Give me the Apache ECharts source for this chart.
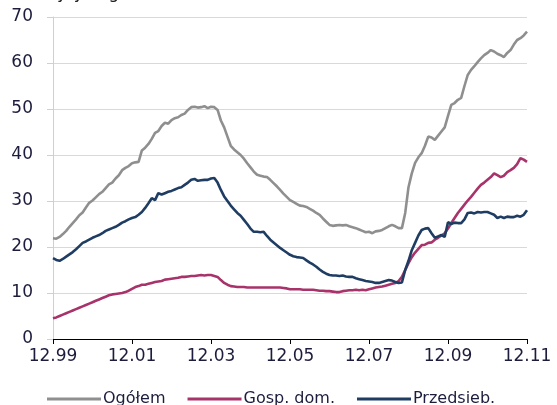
<!DOCTYPE html>
<html>
<head>
<meta charset="utf-8">
<script src="https://cdn.jsdelivr.net/npm/echarts@6/dist/echarts.min.js"></script>
<style>html,body{margin:0;padding:0;background:#fff}#c{width:557px;height:405px}</style>
</head>
<body>
<div id="c"></div>
<script>
// Monthly categories from 12.1999 to 12.2011
const categories = [];
for (let y = 1999, m = 12; y < 2011 || (y === 2011 && m <= 12); ) {
  categories.push(String(m).padStart(2, '0') + '.' + String(y % 100).padStart(2, '0'));
  m++; if (m > 12) { m = 1; y++; }
}
const seriesNames = ['Ogółem', 'Gosp. dom.', 'Przedsieb.'];
const ogolem = [
  21.9, 21.8, 22.2, 22.8, 23.5, 24.4, 25.2, 26.0, 26.9, 27.5,
  28.6, 29.6, 30.1, 30.8, 31.5, 32.0, 32.8, 33.6, 34.0, 34.9,
  35.6, 36.7, 37.2, 37.6, 38.2, 38.4, 38.5, 41.0, 41.6, 42.4,
  43.5, 44.8, 45.2, 46.3, 47.0, 46.8, 47.6, 48.0, 48.2, 48.7,
  49.0, 49.8, 50.4, 50.5, 50.3, 50.4, 50.6, 50.2, 50.5, 50.4,
  49.8, 47.5, 46.0, 44.0, 42.0, 41.2, 40.6, 40.0, 39.2, 38.2,
  37.3, 36.4, 35.7, 35.5, 35.3, 35.2, 34.6, 33.9, 33.2, 32.4,
  31.6, 30.9, 30.2, 29.8, 29.4, 29.0, 28.9, 28.7, 28.3, 27.9,
  27.4, 27.0, 26.2, 25.5, 24.8, 24.6, 24.7, 24.8, 24.7, 24.8,
  24.5, 24.3, 24.1, 23.8, 23.5, 23.2, 23.3, 23.0, 23.4, 23.5,
  23.7, 24.1, 24.5, 24.8, 24.5, 24.1, 24.1, 27.4, 33.0, 36.0,
  38.3, 39.5, 40.4, 42.0, 44.0, 43.8, 43.3, 44.2, 45.1, 46.0,
  48.5, 50.9, 51.3, 52.0, 52.4, 55.0, 57.4, 58.5, 59.3, 60.2,
  61.0, 61.7, 62.2, 62.8, 62.5, 62.0, 61.7, 61.3, 62.2, 62.8,
  64.0, 65.0, 65.4, 66.0, 66.8
];
const gospDom = [
  4.5, 4.7, 5.0, 5.3, 5.6, 5.9, 6.2, 6.5, 6.8, 7.1,
  7.4, 7.7, 8.0, 8.3, 8.6, 8.9, 9.2, 9.5, 9.7, 9.8,
  9.9, 10.0, 10.2, 10.5, 10.9, 11.3, 11.5, 11.8, 11.8, 12.0,
  12.2, 12.4, 12.5, 12.6, 12.9, 13.0, 13.1, 13.2, 13.3, 13.5,
  13.5, 13.6, 13.7, 13.7, 13.8, 13.9, 13.8, 13.9, 13.9, 13.7,
  13.5, 12.8, 12.2, 11.8, 11.5, 11.4, 11.3, 11.3, 11.3, 11.2,
  11.2, 11.2, 11.2, 11.2, 11.2, 11.2, 11.2, 11.2, 11.2, 11.2,
  11.1, 11.0, 10.8, 10.8, 10.8, 10.8, 10.7, 10.7, 10.7, 10.7,
  10.6, 10.5, 10.5, 10.4, 10.4, 10.3, 10.2, 10.2, 10.4, 10.5,
  10.6, 10.6, 10.7, 10.6, 10.7, 10.6, 10.8, 11.0, 11.2, 11.3,
  11.4, 11.6, 11.8, 12.0, 12.2, 12.6, 13.5, 15.0, 16.5, 17.8,
  18.8, 19.6, 20.4, 20.5, 20.9, 21.0, 21.6, 22.0, 22.5, 23.0,
  24.0, 25.2, 26.3, 27.4, 28.3, 29.2, 30.1, 30.9, 31.8, 32.7,
  33.5, 34.0, 34.6, 35.2, 36.0, 35.6, 35.2, 35.5, 36.3, 36.7,
  37.2, 38.0, 39.3, 39.0, 38.5
];
const przedsieb = [
  17.6, 17.2, 17.0, 17.4, 17.9, 18.4, 18.9, 19.5, 20.2, 20.9,
  21.2, 21.6, 22.0, 22.3, 22.6, 23.0, 23.5, 23.8, 24.1, 24.4,
  24.8, 25.3, 25.6, 26.0, 26.3, 26.5, 27.0, 27.6, 28.5, 29.5,
  30.6, 30.2, 31.7, 31.4, 31.7, 32.0, 32.2, 32.5, 32.8, 33.0,
  33.5, 34.0, 34.6, 34.8, 34.4, 34.5, 34.6, 34.6, 34.9, 35.0,
  34.0, 32.4, 31.0, 30.0, 29.0, 28.2, 27.4, 26.8, 25.9, 25.0,
  24.0, 23.3, 23.3, 23.2, 23.3, 22.4, 21.6, 21.0, 20.4, 19.8,
  19.3, 18.8, 18.3, 18.0, 17.8, 17.7, 17.6, 17.1, 16.6, 16.2,
  15.7, 15.1, 14.6, 14.2, 13.9, 13.8, 13.8, 13.7, 13.8, 13.6,
  13.5, 13.5, 13.2, 13.0, 12.8, 12.6, 12.5, 12.4, 12.2, 12.2,
  12.4, 12.6, 12.8, 12.7, 12.4, 12.2, 12.3, 15.0, 17.0, 19.3,
  20.9, 22.5, 23.7, 24.0, 24.1, 23.0, 22.0, 22.3, 22.6, 22.2,
  25.4, 25.0, 25.3, 25.2, 25.2, 26.0, 27.4, 27.5, 27.3, 27.6,
  27.5, 27.6, 27.6, 27.3, 27.0, 26.3, 26.6, 26.3, 26.6, 26.5,
  26.5, 26.8, 26.6, 27.0, 28.0
];
const colors = ['#8f8f8f', '#a8336b', '#1f3d63'];
const font = 'DejaVu Sans, Verdana, sans-serif';

const chart = echarts.init(document.getElementById('c'), null, {renderer: 'canvas'});
chart.setOption({
  animation: false,
  backgroundColor: '#fff',
  graphic: [{
    type: 'text', left: 18, top: -15,
    style: {text: 'Kredyty, wg sektorów (mld zł)', fontFamily: font, fontSize: 17, fill: '#222'}
  }],
  grid: {left: 53, right: 30, top: 17, bottom: 66},
  legend: {
    bottom: -7, left: 42,
    itemWidth: 54, itemHeight: 3, itemGap: 22,
    icon: 'rect',
    textStyle: {fontFamily: font, fontSize: 16, color: '#1c1c3c', padding: [0, 0, 0, -3]},
    data: seriesNames
  },
  xAxis: {
    type: 'category', data: categories, boundaryGap: false,
    axisLine: {lineStyle: {color: '#000', width: 1}},
    axisTick: {show: true, length: 5, interval: (i) => i % 24 === 0, lineStyle: {color: '#000'}},
    axisLabel: {interval: (i) => i % 24 === 0, fontFamily: font, fontSize: 17, color: '#1c1c3c', margin: 9, showMaxLabel: true},
    splitLine: {show: false}
  },
  yAxis: {
    type: 'value', min: 0, max: 70, interval: 10,
    axisLine: {show: true, lineStyle: {color: '#d0d0d0'}},
    axisTick: {show: true, length: 6, lineStyle: {color: '#d0d0d0'}},
    axisLabel: {fontFamily: font, fontSize: 17, color: '#1c1c3c', margin: 20},
    splitLine: {lineStyle: {color: '#d9d9d9', width: 1}}
  },
  series: [
    {name: seriesNames[0], type: 'line', data: ogolem, showSymbol: false, lineStyle: {width: 2.6, color: colors[0]}, itemStyle: {color: colors[0]}},
    {name: seriesNames[1], type: 'line', data: gospDom, showSymbol: false, lineStyle: {width: 2.6, color: colors[1]}, itemStyle: {color: colors[1]}},
    {name: seriesNames[2], type: 'line', data: przedsieb, showSymbol: false, lineStyle: {width: 2.6, color: colors[2]}, itemStyle: {color: colors[2]}}
  ]
});
</script>
</body>
</html>
